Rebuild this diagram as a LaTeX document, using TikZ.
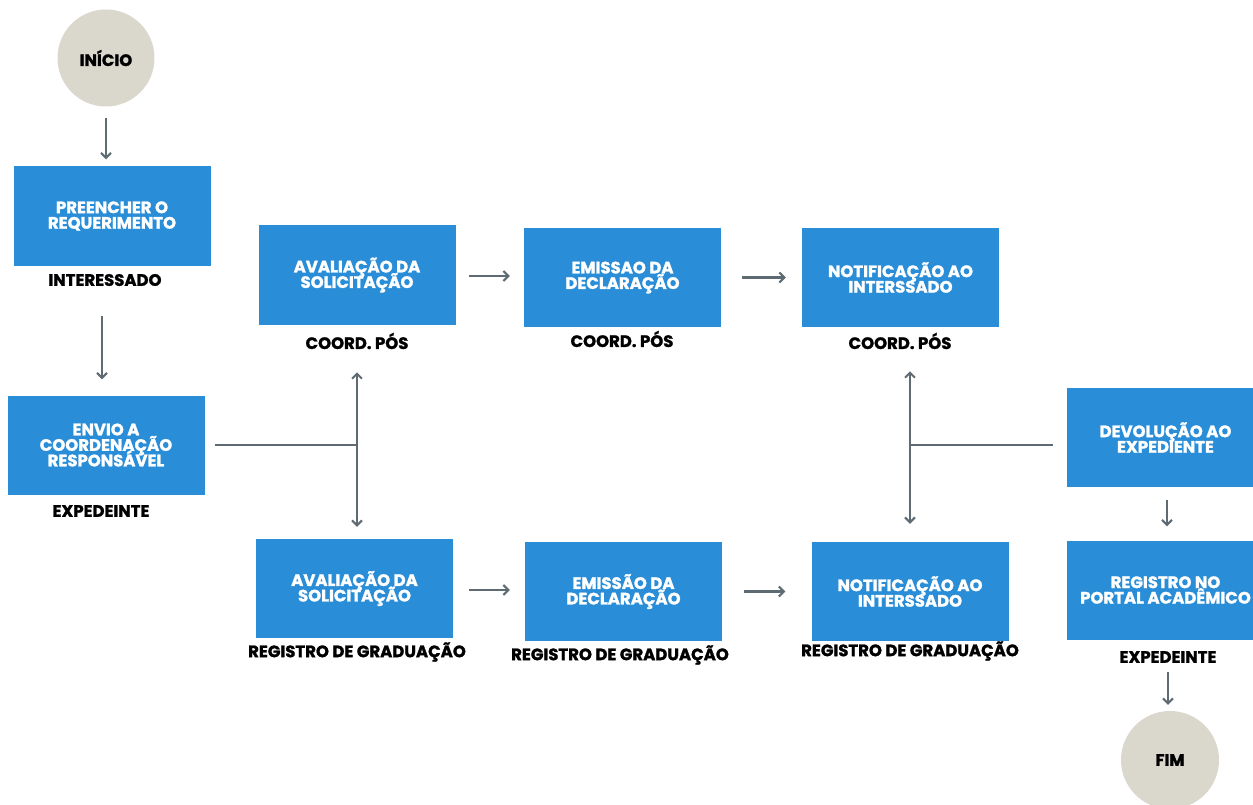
\documentclass[tikz,border=0pt]{standalone}
\usepackage{fontspec}
\setmainfont{Poppins}[BoldFeatures={FakeBold=1.5}]
\usetikzlibrary{arrows.meta}
\definecolor{boxblue}{HTML}{2A8DD8}
\definecolor{circgray}{HTML}{DAD7CC}
\definecolor{arrgray}{HTML}{5F6B73}
\lineskiplimit=-20pt
\tikzset{
  box/.style={fill=boxblue, minimum width=197pt, minimum height=99pt, inner sep=0pt,
    align=center, text=white, font=\fontsize{16.5}{15.5}\selectfont\bfseries},
  lbl/.style={inner sep=0pt, text=black, font=\fontsize{16.5}{16}\selectfont\bfseries},
  circ/.style={circle, fill=circgray, minimum size=97pt, inner sep=0pt,
    text=black, font=\fontsize{16.5}{16}\selectfont\bfseries},
  tip/.tip={Straight Barb[length=5pt,width=10pt,line width=2pt]},
  ln/.style={draw=arrgray, line width=2.5pt},
  arr/.style={ln, -tip},
  dbl/.style={ln, tip-tip}
}
\begin{document}
\begin{tikzpicture}[x=1pt,y=-1pt]
\useasboundingbox (0,0) rectangle (1253,805);
\clip (0,0) rectangle (1253,805);
\fill[white] (0,0) rectangle (1253,805);
% start / end
\node[circ] (ini) at (106,58) {INÍCIO};
\node[circ, minimum size=98pt] (fim) at (1170,760) {FIM};
% left column
\node[box] (b1) at (112,216) {PREENCHER O\\REQUERIMENTO};
\node[lbl] (l1) at (105,280) {INTERESSADO};
\node[box] (b2) at (106,445) {ENVIO A\\COORDENAÇÃO\\RESPONSÁVEL};
\node[lbl] (l2) at (101,511) {EXPEDEINTE};
% top row
\node[box] (t1) at (357,275) {AVALIAÇÃO DA\\SOLICITAÇÃO};
\node[lbl] (lt1) at (357,341) {COORD. PÓS};
\node[box] (t2) at (622.5,277.5) {EMISSAO DA\\DECLARAÇÃO};
\node[lbl] (lt2) at (622,339) {COORD. PÓS};
\node[box] (t3) at (900.5,277.5) {NOTIFICAÇÃO AO\\INTERSSADO};
\node[lbl] (lt3) at (900,341) {COORD. PÓS};
% bottom row
\node[box] (g1) at (354.5,588.5) {AVALIAÇÃO DA\\SOLICITAÇÃO};
\node[lbl] (lg1) at (357,652) {REGISTRO DE GRADUAÇÃO};
\node[box] (g2) at (623.5,591.5) {EMISSÃO DA\\DECLARAÇÃO};
\node[lbl] (lg2) at (620,655) {REGISTRO DE GRADUAÇÃO};
\node[box] (g3) at (910,591.5) {NOTIFICAÇÃO AO\\INTERSSADO};
\node[lbl] (lg3) at (910,651) {REGISTRO DE GRADUAÇÃO};
% right column
\node[box] (d) at (1165.5,437.5) {DEVOLUÇÃO AO\\EXPEDIENTE};
\node[box] (r) at (1165.5,590) {REGISTRO NO\\PORTAL ACADÊMICO};
\node[lbl] (lr) at (1168,657) {EXPEDEINTE};
% junctions
\coordinate (j1) at (357,445);
\coordinate (j2) at (910,445);
% connectors
\draw[arr, shorten <=11pt, shorten >=7pt] (ini.south) -- (ini.south |- b1.north);
\draw[arr, shorten <=30pt, shorten >=16pt] ([xshift=-3pt]l1.south) -- ([xshift=-3pt]l1.south |- b2.north);
\draw[ln, shorten <=10pt] (b2.east) -- (j1);
\draw[dbl, shorten <=23pt, shorten >=12pt] (lt1.south) -- (lt1.south |- g1.north);
\draw[arr, shorten <=13.5pt, shorten >=14pt] ([yshift=-1pt]t1.east) -- ([yshift=-1pt]t1.east -| t2.west);
\draw[arr, shorten <=21pt, shorten >=16pt] (t2.east) -- (t2.east -| t3.west);
\draw[arr, shorten <=16pt, shorten >=15pt] ([yshift=-1.5pt]g1.east) -- ([yshift=-1.5pt]g1.east -| g2.west);
\draw[arr, shorten <=22pt, shorten >=26pt] (g2.east) -- (g2.east -| g3.west);
\draw[dbl, shorten <=18pt, shorten >=22pt] (g3.north) -- (g3.north |- lt3.south);
\draw[ln, shorten >=14pt] (j2) -- (j2 -| d.west);
\draw[arr, shorten <=13pt, shorten >=14pt] ([xshift=1.5pt]d.south) -- ([xshift=1.5pt]r.north);
\draw[arr, shorten <=9pt, shorten >=6pt] (lr.south) -- (lr.south |- fim.north);
\end{tikzpicture}
\end{document}
